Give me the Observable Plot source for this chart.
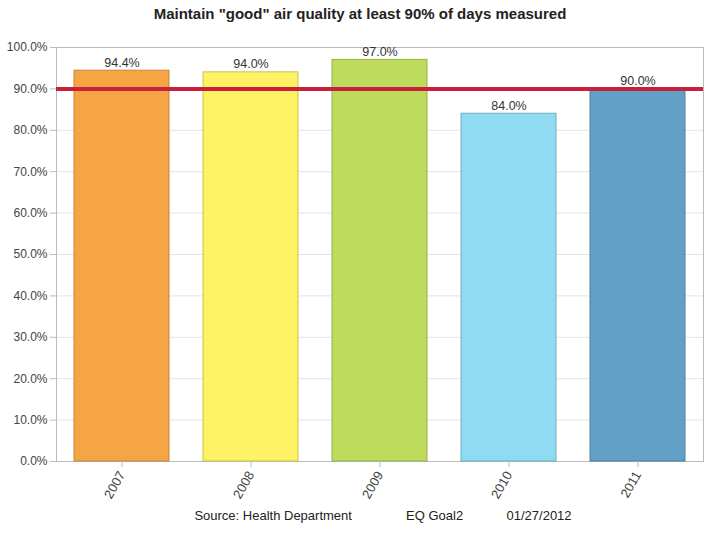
<!DOCTYPE html>
<html>
<head>
<meta charset="utf-8">
<script src="https://cdn.jsdelivr.net/npm/d3@7"></script>
<script src="https://cdn.jsdelivr.net/npm/@observablehq/plot@0.6"></script>
<style>
  body { margin: 0; background: #fff; width: 720px; height: 540px; overflow: hidden;
         font-family: "Liberation Sans Narrow", "Liberation Sans", Arial, sans-serif; }
  #title { height: 28px; line-height: 28px; text-align: center; font-size: 15px; font-weight: bold; color: #222; }
  #caption { text-align: center; font-size: 13px; color: #222; margin-top: 8px; padding-left: 46px; white-space: pre; }
</style>
</head>
<body>
<div id="title">Maintain "good" air quality at least 90% of days measured</div>
<div id="chart"></div>
<div id="caption">Source: Health Department               EQ Goal2            01/27/2012</div>
<script>
const years = ["2007", "2008", "2009", "2010", "2011"];
const values = [94.4, 94.0, 97.0, 84.0, 90.0];
const fills = ["#F6A545", "#FCF263", "#BEDB5C", "#8FDBF1", "#62A0C7"];
const strokes = ["#C8843A", "#C9C250", "#98AF4A", "#6FAFC2", "#4E80A0"];
const target = 90;
const yTicks = [0, 10, 20, 30, 40, 50, 60, 70, 80, 90, 100];

const data = years.map((y, i) => ({year: y, value: values[i], fill: fills[i], stroke: strokes[i]}));

const chart = Plot.plot({
  width: 720,
  height: 472,
  marginTop: 19,
  marginLeft: 56,
  marginRight: 17,
  marginBottom: 39,
  style: {fontFamily: '"Liberation Sans Narrow", "Liberation Sans", Arial, sans-serif', fontSize: "12px", color: "#444", background: "#fff"},
  x: {domain: years, paddingInner: 0.265, paddingOuter: 0.135, label: null, tickRotate: -60, tickSize: 6},
  y: {domain: [0, 100], ticks: yTicks, tickFormat: d => d.toFixed(1) + "%", label: null, tickSize: 6},
  marks: [
    Plot.gridY(yTicks, {stroke: "#e4e4e4", strokeOpacity: 1}),
    Plot.frame({stroke: "#bbb"}),
    Plot.barY(data, {x: "year", y: "value", fill: "fill", stroke: "stroke", strokeWidth: 1}),
    Plot.text(data, {x: "year", y: "value", text: d => d.value.toFixed(1) + "%", dy: -8, fill: "#333", fontSize: 12.5}),
    Plot.ruleY([target], {stroke: "#C8203C", strokeWidth: 4}),
    Plot.axisY({ticks: yTicks, tickFormat: d => d.toFixed(1) + "%", label: null, tickSize: 6, stroke: "#bbb", fill: "#444"}),
    Plot.axisX({label: null, tickRotate: -60, tickSize: 6, stroke: "#bbb", fill: "#444", fontSize: 13})
  ]
});
document.getElementById("chart").appendChild(chart);
</script>
</body>
</html>
